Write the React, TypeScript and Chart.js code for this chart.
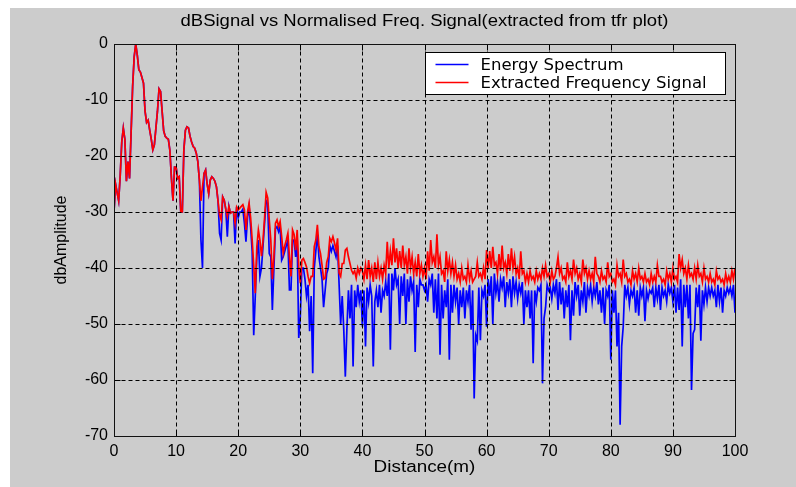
import { useEffect, useRef } from "react";
import { Chart, registerables } from "chart.js";

Chart.register(...registerables);

const TITLE = "dBSignal vs Normalised Freq. Signal(extracted from tfr plot)";
const X_TITLE = "Distance(m)";
const Y_TITLE = "dbAmplitude";
const SERIES_NAMES = ["Energy Spectrum", "Extracted Frequency Signal"];
const X_TICKS = [0, 10, 20, 30, 40, 50, 60, 70, 80, 90, 100];
const Y_TICKS = [0, -10, -20, -30, -40, -50, -60, -70];
const SAMPLE_STEP = 0.25; // metres between samples

// Extracted Frequency Signal (red), dB, sampled every 0.25 m from 0 to 100 m
const extractedSignal = [
  -30, -25, -26.5, -28, -23.5, -17.5, -15, -17, -24.5, -21, -24, -16, -7.6, -2.3, 0, -2, -4.6, -5, -6, -7,
  -12, -14, -13.6, -15.4, -17, -18.9, -18, -15, -12, -8, -8.5, -12, -15.5, -16.5, -16.8, -17, -19, -24, -28, -22,
  -22, -24, -23.7, -30, -30, -18.9, -15.4, -14.8, -15, -16.5, -17.5, -18.3, -18.6, -19.5, -21, -24.3, -28, -25.5, -23.1, -22.5,
  -25, -26.7, -24.3, -23.7, -24, -24.5, -25.5, -28, -30.5, -31.4, -27.3, -27.9, -29.5, -30.8, -29, -30.2, -30, -30, -32, -29.1,
  -29.6, -29.3, -29, -28.7, -29.6, -33.2, -30, -28.4, -31, -35, -39.5, -44.5, -36.2, -33.2, -35, -37.9, -35, -31, -26.5, -27.5,
  -31.4, -35, -42, -38, -32, -31.4, -32.6, -31.7, -34.4, -37.4, -36, -35, -33.8, -38, -41.5, -33.2, -34, -36.8, -33.2, -39.8,
  -42.7, -38.6, -38.3, -39, -39.8, -41.5, -42.7, -41.5, -41.5, -36.2, -35, -32.3, -36.2, -37.4, -39.5, -42, -41.8, -39, -38, -34.7,
  -35.3, -34.4, -35.5, -36.8, -34.7, -40.9, -41.5, -39.2, -39.2, -36.8, -36.5, -38, -39.2, -40.4, -41, -40.5, -41.8, -40, -41, -40,
  -40.5, -42, -39.5, -42, -38.6, -41.5, -40, -42.5, -39, -42, -39, -41.5, -40, -42, -39.5, -41, -35.3, -40, -37, -39.5,
  -34.7, -39, -36.5, -40, -37, -40, -36, -39.5, -38, -41, -36.5, -40, -38, -41, -39, -41.5, -37.5, -41, -39.5, -41.5,
  -40, -42, -37, -40.5, -35, -39, -38, -40, -34, -39.5, -38, -41, -40.5, -42.5, -37, -40.5, -38.5, -41, -39, -41.5,
  -39.5, -42, -41, -42.5, -40, -42, -41.5, -42.5, -39.5, -42, -40.5, -42.5, -42, -41.5, -39, -41.5, -41, -42, -40, -42,
  -36.8, -40, -37, -40, -36.2, -39.5, -39, -41, -37.5, -40.5, -36, -40, -39, -41, -37.5, -40.5, -36.5, -40, -38, -41,
  -40, -42, -37, -41, -40.5, -42.5, -41, -42.5, -40.5, -42, -41.5, -42.5, -40.5, -42, -41, -42, -40, -41.5, -39.5, -41.5,
  -41, -42.5, -40.5, -42, -41.5, -40, -38, -41, -40, -42, -41.5, -42.5, -39, -41.5, -40.5, -42, -38.5, -41, -40, -42,
  -41, -42.5, -38.5, -41, -40, -42, -40.5, -42, -41, -42.5, -38, -41, -41.5, -42.5, -40.5, -42, -41.5, -42.5, -39, -41.5,
  -41, -42.5, -42, -43, -39.5, -41.5, -41, -42.5, -38.5, -41.5, -41, -42.5, -42, -43, -40.5, -42, -41, -42.5, -40, -42,
  -41.5, -42.5, -41, -42.5, -42, -43, -41, -42.5, -41.5, -42.5, -39.5, -41.5, -41.5, -42.5, -42, -43, -40.5, -42, -41, -42.5,
  -40, -42, -41.5, -42.5, -37.5, -40, -38.5, -41, -40, -42, -39.5, -41.5, -41, -42, -40, -42, -39.5, -41.5, -41, -42.5,
  -40, -42, -41.5, -42.5, -41, -42.5, -42, -43, -40.5, -42, -41.5, -42.5, -42, -43, -41, -42.5, -41.5, -42.5, -40.5, -42,
  -40,
];

// Energy Spectrum (blue), dB, same sampling
const energySpectrum = [
  -30, -25, -26.5, -28, -23.5, -17.5, -15, -17, -24.5, -21, -24, -16, -7.6, -2.3, 0, -2, -4.6, -5, -6, -7,
  -12, -14, -13.6, -15.4, -17, -18.9, -18, -15, -12, -8, -8.5, -12, -15.5, -16.5, -16.8, -17, -19, -24, -28, -22,
  -22, -24, -23.7, -30, -30, -18.9, -15.4, -14.8, -15, -16.5, -17.5, -18.3, -18.6, -19.5, -21, -24.3, -35, -40, -23.1, -22.5,
  -25, -26.7, -24.3, -23.7, -24, -24.5, -25.5, -28, -33.8, -35, -27.3, -27.9, -29.5, -34.4, -29, -30.2, -30, -30, -35.6, -29.1,
  -31, -30, -30, -29.5, -32, -35.3, -31, -29, -32.6, -37, -52, -45, -38, -35, -41.5, -40, -36, -32, -28, -28.5,
  -37.4, -38, -47.5, -40, -33, -32.6, -33.5, -32.5, -38.6, -38, -37, -36, -35, -43.9, -43.9, -35, -35, -38, -35, -52.5,
  -48.7, -40, -40, -42, -45, -43, -51.3, -45, -58.8, -40, -37, -34, -38, -40, -42, -47, -44, -41, -40, -36,
  -37, -36, -37, -38, -36, -43, -50, -45, -51, -59.4, -51, -44, -49, -43, -57.6, -44, -47, -43, -46, -44,
  -50.5, -44, -54, -43.5, -46, -43, -45, -57.6, -46, -44, -47, -43, -48, -44, -45, -42.5, -45, -41, -54.6, -41,
  -44, -40, -43, -42, -50, -41.5, -45, -41, -50, -42, -46, -41.5, -44, -42.5, -55, -43, -47, -42, -43, -43,
  -44, -43, -46, -42, -43, -41, -48, -42, -49, -41, -55.5, -43, -49, -44, -47, -42, -56.4, -43, -48, -43,
  -46, -43.5, -50, -44, -47, -43.5, -49, -44, -46, -43, -51, -44, -63.3, -52, -53, -43.5, -52.9, -44, -45, -43,
  -50.5, -42, -45, -41.5, -50, -41, -44.5, -42.5, -46, -42, -43.5, -41.5, -47, -42.5, -44.5, -42, -47, -41.5, -44.5, -42.5,
  -45.5, -43, -44.5, -42.5, -50, -44, -47, -44, -49, -44, -57, -44, -46, -43.5, -44, -43, -60.6, -49, -47, -43,
  -44, -43.5, -45.5, -43, -44.5, -42, -47.5, -42.5, -46.5, -43.5, -49, -44, -47, -43, -52.9, -44, -48.5, -42.5, -45, -43,
  -48.5, -44, -46, -42.5, -48, -43.5, -45, -43, -46, -43.5, -45, -42.5, -46.5, -44, -48, -43.5, -50, -44, -45, -43,
  -56.4, -44, -48, -44, -54, -48, -68, -54, -50.5, -43, -45, -43.5, -46.5, -44, -45, -43.5, -48, -44, -48.5, -43.5,
  -45, -43.5, -49.5, -44, -45.5, -44, -44.5, -43.5, -47, -43.5, -45.5, -43, -47.5, -43.5, -45, -44, -46, -43, -44.5, -43.5,
  -46, -43, -48, -43.5, -47.5, -42, -54, -43, -47, -43, -49, -43, -61.8, -51.7, -51, -43.5, -47, -43, -53, -44,
  -46.5, -43.5, -46, -43.5, -45, -43.5, -45, -44, -47, -43, -46, -43.5, -48, -44, -45, -43.5, -44.5, -43.5, -45, -43,
  -48,
];

const BLUE = "#0000ff";
const RED = "#ff0000";
const SANS = '"Liberation Sans", Arial, sans-serif';
const LEGEND_FONT = '16.5px "DejaVu Sans", sans-serif';

// draw horizontally widened text (the reference figure is stretched sideways)
function wideText(ctx: CanvasRenderingContext2D, text: string, x: number, y: number, sx: number) {
  ctx.save();
  ctx.translate(x, y);
  ctx.scale(sx, 1);
  ctx.fillText(text, 0, 0);
  ctx.restore();
}

const matlabFrame = {
  id: "matlabFrame",
  afterDatasetsDraw(chart: any) {
    const { ctx, chartArea: a } = chart;
    const xs = chart.scales.x;
    const ys = chart.scales.y;
    const L = Math.round(a.left) + 0.5;
    const R = Math.round(a.right) + 0.5;
    const T = Math.round(a.top) + 0.5;
    const B = Math.round(a.bottom) + 0.5;
    ctx.save();

    // dashed grid
    ctx.strokeStyle = "#000";
    ctx.lineWidth = 1;
    ctx.setLineDash([4, 3]);
    ctx.beginPath();
    X_TICKS.slice(1, -1).forEach((v) => {
      const px = Math.round(xs.getPixelForValue(v)) + 0.5;
      ctx.moveTo(px, T);
      ctx.lineTo(px, B);
    });
    Y_TICKS.slice(1, -1).forEach((v) => {
      const py = Math.round(ys.getPixelForValue(v)) + 0.5;
      ctx.moveTo(L, py);
      ctx.lineTo(R, py);
    });
    ctx.stroke();
    ctx.setLineDash([]);

    // inner tick marks on all four sides
    const tl = 6;
    ctx.beginPath();
    X_TICKS.forEach((v) => {
      const px = Math.round(xs.getPixelForValue(v)) + 0.5;
      ctx.moveTo(px, B);
      ctx.lineTo(px, B - tl);
      ctx.moveTo(px, T);
      ctx.lineTo(px, T + tl);
    });
    Y_TICKS.forEach((v) => {
      const py = Math.round(ys.getPixelForValue(v)) + 0.5;
      ctx.moveTo(L, py);
      ctx.lineTo(L + tl, py);
      ctx.moveTo(R, py);
      ctx.lineTo(R - tl, py);
    });
    ctx.stroke();

    // axes box
    ctx.strokeStyle = "#111";
    ctx.strokeRect(L, T, R - L, B - T);

    // legend
    const lgR = R - 10;
    const lgL = lgR - 300;
    const lgT = T + 8;
    const lgH = 42;
    ctx.fillStyle = "#fff";
    ctx.fillRect(lgL, lgT, lgR - lgL, lgH);
    ctx.strokeStyle = "#000";
    ctx.strokeRect(lgL, lgT, lgR - lgL, lgH);
    const rows = [
      { name: SERIES_NAMES[0], color: BLUE, y: lgT + 12 },
      { name: SERIES_NAMES[1], color: RED, y: lgT + 30 },
    ];
    ctx.font = LEGEND_FONT;
    ctx.textBaseline = "middle";
    ctx.textAlign = "left";
    rows.forEach((r) => {
      ctx.strokeStyle = r.color;
      ctx.lineWidth = 1.4;
      ctx.beginPath();
      ctx.moveTo(lgL + 10, r.y);
      ctx.lineTo(lgL + 43, r.y);
      ctx.stroke();
      ctx.fillStyle = "#000";
      ctx.fillText(r.name, lgL + 55, r.y + 1);
    });

    // titles
    ctx.fillStyle = "#000";
    ctx.textAlign = "center";
    ctx.textBaseline = "middle";
    const cx = (a.left + a.right) / 2;
    ctx.font = `16px ${SANS}`;
    wideText(ctx, TITLE, cx, a.top - 22, 1.155);
    wideText(ctx, X_TITLE, cx, a.bottom + 32, 1.18);
    ctx.save();
    ctx.translate(a.left - 52, (a.top + a.bottom) / 2);
    ctx.rotate(-Math.PI / 2);
    ctx.fillText(Y_TITLE, 0, 0);
    ctx.restore();

    ctx.restore();
  },
};

export default function App() {
  const ref = useRef<HTMLCanvasElement | null>(null);

  useEffect(() => {
    if (!ref.current) return;
    const distance = energySpectrum.map((_, i) => i * SAMPLE_STEP);
    const toPoints = (arr: number[]) => arr.map((y, i) => ({ x: distance[i], y }));
    const chart = new Chart(ref.current, {
      type: "line",
      data: {
        datasets: [
          {
            label: SERIES_NAMES[1],
            data: toPoints(extractedSignal),
            borderColor: RED,
            borderWidth: 1.7,
            pointRadius: 0,
            tension: 0,
            fill: false,
            order: 0,
          },
          {
            label: SERIES_NAMES[0],
            data: toPoints(energySpectrum),
            borderColor: BLUE,
            borderWidth: 1.7,
            pointRadius: 0,
            tension: 0,
            fill: false,
            order: 1,
          },
        ],
      },
      options: {
        animation: false,
        responsive: false,
        devicePixelRatio: 1,
        events: [],
        layout: { padding: { top: 36, right: 61, left: 0, bottom: 0 } },
        plugins: {
          legend: { display: false },
          title: { display: false },
          tooltip: { enabled: false },
        },
        scales: {
          x: {
            type: "linear",
            min: 0,
            max: 100,
            afterBuildTicks: (s: any) => {
              s.ticks = X_TICKS.map((v) => ({ value: v }));
            },
            afterFit: (s: any) => {
              s.height = 51;
            },
            grid: { display: false, drawTicks: false },
            border: { display: false },
            ticks: {
              padding: 6,
              color: "#000",
              autoSkip: false,
              maxRotation: 0,
              font: { family: SANS, size: 16 },
            },
          },
          y: {
            type: "linear",
            min: -70,
            max: 0,
            afterBuildTicks: (s: any) => {
              s.ticks = Y_TICKS.map((v) => ({ value: v }));
            },
            afterFit: (s: any) => {
              s.width = 104;
            },
            grid: { display: false, drawTicks: false },
            border: { display: false },
            ticks: {
              padding: 6,
              color: "#000",
              autoSkip: false,
              font: { family: SANS, size: 16 },
            },
          },
        },
      },
      plugins: [matlabFrame],
    } as any);
    return () => chart.destroy();
  }, []);

  return (
    <div
      style={{
        position: "absolute",
        left: 10,
        top: 8,
        width: 786,
        height: 479,
        background: "#cccccc",
      }}
    >
      <canvas ref={ref} width={786} height={479} style={{ display: "block" }} />
    </div>
  );
}
